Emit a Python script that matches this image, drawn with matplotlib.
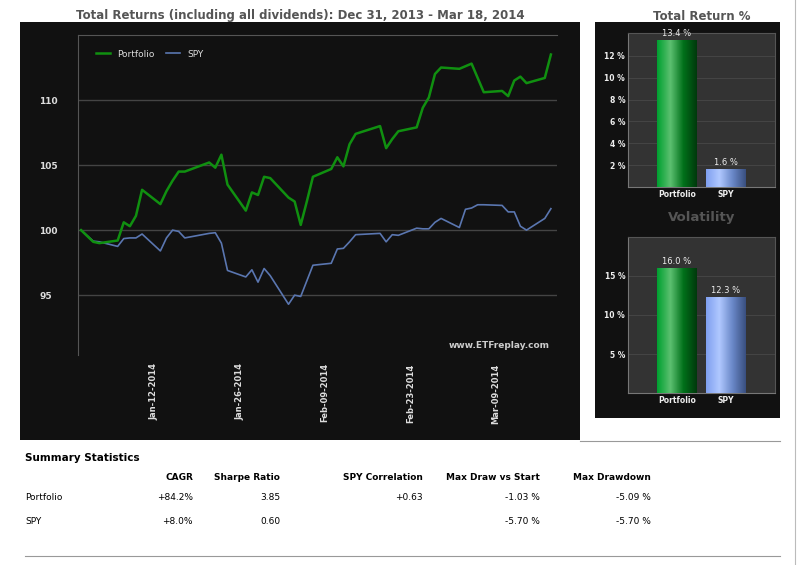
import numpy as np
import pandas as pd
import matplotlib
matplotlib.use("Agg")
import matplotlib.pyplot as plt
import matplotlib.dates as mdates
from matplotlib.colors import LinearSegmentedColormap

# ── Data ──────────────────────────────────────────────────────────────────────
dates = pd.to_datetime([
    "2013-12-31", "2014-01-02", "2014-01-03", "2014-01-06", "2014-01-07", "2014-01-08",
    "2014-01-09", "2014-01-10", "2014-01-13", "2014-01-14", "2014-01-15", "2014-01-16",
    "2014-01-17", "2014-01-21", "2014-01-22", "2014-01-23", "2014-01-24", "2014-01-27",
    "2014-01-28", "2014-01-29", "2014-01-30", "2014-01-31", "2014-02-03", "2014-02-04",
    "2014-02-05", "2014-02-06", "2014-02-07", "2014-02-10", "2014-02-11", "2014-02-12",
    "2014-02-13", "2014-02-14", "2014-02-18", "2014-02-19", "2014-02-20", "2014-02-21",
    "2014-02-24", "2014-02-25", "2014-02-26", "2014-02-27", "2014-02-28", "2014-03-03",
    "2014-03-04", "2014-03-05", "2014-03-06", "2014-03-07", "2014-03-10", "2014-03-11",
    "2014-03-12", "2014-03-13", "2014-03-14", "2014-03-17", "2014-03-18",
])
portfolio = [
    100.0, 99.1, 99.0, 99.2, 100.6, 100.3, 101.1, 103.1, 102.0, 103.0, 103.8, 104.5,
    104.5, 105.2, 104.8, 105.8, 103.5, 101.5, 102.9, 102.7, 104.1, 104.0, 102.5, 102.2,
    100.4, 102.2, 104.1, 104.7, 105.6, 104.9, 106.6, 107.4, 108.0, 106.3, 107.0, 107.6,
    107.9, 109.4, 110.2, 112.0, 112.5, 112.4, 112.6, 112.8, 111.7, 110.6, 110.7, 110.3,
    111.5, 111.8, 111.3, 111.7, 113.5,
]
spy = [
    100.0, 99.15, 99.1, 98.75, 99.35, 99.4, 99.4, 99.7, 98.4, 99.4, 100.0, 99.9,
    99.4, 99.75, 99.8, 99.0, 96.9, 96.4, 96.95, 96.0, 97.05, 96.5, 94.3, 95.0,
    94.9, 96.1, 97.3, 97.45, 98.55, 98.6, 99.1, 99.65, 99.75, 99.1, 99.65, 99.6,
    100.15, 100.1, 100.1, 100.6, 100.9, 100.2, 101.6, 101.7, 101.95, 101.95, 101.9, 101.4,
    101.4, 100.3, 100.0, 100.9, 101.65,
]
tick_dates = pd.to_datetime(["2014-01-12", "2014-01-26", "2014-02-09", "2014-02-23", "2014-03-09"])

bar_names = ["Portfolio", "SPY"]
total_return = [13.4, 1.6]
volatility = [16.0, 12.3]

stat_cols = ["CAGR", "Sharpe Ratio", "SPY Correlation", "Max Draw vs Start", "Max Drawdown"]
stat_rows = {
    "Portfolio": ["+84.2%", "3.85", "+0.63", "-1.03 %", "-5.09 %"],
    "SPY": ["+8.0%", "0.60", "", "-5.70 %", "-5.70 %"],
}

W, H = 805, 565
GREEN, BLUE = "#109010", "#5a76b0"


def box(x0, y0, x1, y1):
    """pixel box (top-left origin) -> figure rect"""
    return [x0 / W, 1 - y1 / H, (x1 - x0) / W, (y1 - y0) / H]


fig = plt.figure(figsize=(W / 100, H / 100), dpi=100, facecolor="white")

# dark panels
for rect in (box(20, 22, 580, 440), box(595, 22, 780, 418)):
    bg = fig.add_axes(rect)
    bg.set_facecolor("#111111")
    bg.set_xticks([]); bg.set_yticks([])
    for s in bg.spines.values():
        s.set_visible(False)

# ── Line chart ────────────────────────────────────────────────────────────────
ax = fig.add_axes(box(78, 35, 557, 355))
ax.set_facecolor("#111111")
ax.plot(dates, spy, color=BLUE, lw=1.2, label="SPY", zorder=3)
ax.plot(dates, portfolio, color=GREEN, lw=1.8, label="Portfolio", zorder=4)
ax.set_ylim(90.4, 115)
ax.set_xlim(pd.Timestamp("2013-12-30 12:00"), pd.Timestamp("2014-03-19"))
ax.set_yticks([95, 100, 105, 110])
ax.yaxis.grid(True, color="#444444", lw=1)
ax.set_xticks(tick_dates)
ax.xaxis.set_major_formatter(mdates.DateFormatter("%b-%d-%Y"))
ax.tick_params(axis="x", rotation=90, colors="#dddddd", labelsize=6, length=0, pad=6)
ax.tick_params(axis="y", colors="#dddddd", labelsize=6.5, length=0, pad=28)
for lab in ax.get_xticklabels() + ax.get_yticklabels():
    lab.set_fontweight("bold")
for lab in ax.get_yticklabels():
    lab.set_horizontalalignment("left")
for s in ["right", "bottom"]:
    ax.spines[s].set_visible(False)
ax.spines["left"].set_color("#555555")
ax.spines["top"].set_color("#555555")
ax.legend(handles=ax.get_lines()[::-1], loc="upper left", ncol=2, frameon=False,
          fontsize=6.5, labelcolor="#dddddd", handlelength=1.6, columnspacing=1.2,
          bbox_to_anchor=(0.02, 0.98))
ax.text(0.985, 0.015, "www.ETFreplay.com", transform=ax.transAxes, ha="right", va="bottom",
        color="#cccccc", fontsize=6.5, fontweight="bold")

fig.text(300 / W, 1 - 16 / H, "Total Returns (including all dividends): Dec 31, 2013 - Mar 18, 2014",
         ha="center", va="center", fontsize=8.5, fontweight="bold", color="#555555")
fig.text(702 / W, 1 - 16 / H, "Total Return %", ha="center", va="center",
         fontsize=8.5, fontweight="bold", color="#555555")
fig.text(702 / W, 1 - 218 / H, "Volatility", ha="center", va="center",
         fontsize=9.5, fontweight="bold", color="#555555")

# ── Bar charts ────────────────────────────────────────────────────────────────
gcmap = LinearSegmentedColormap.from_list("g", ["#00a030", "#5cc070", "#00701a", "#003a0c"])
bcmap = LinearSegmentedColormap.from_list("b", ["#80a0f0", "#b0c8ff", "#6a88c8", "#3a5080"])
grad = np.linspace(0, 1, 64).reshape(1, -1)


def bar_panel(rect, values, ymax, ticks):
    bx = fig.add_axes(rect)
    bx.set_facecolor("#333333")
    width = 0.81
    for i, (v, cm) in enumerate(zip(values, (gcmap, bcmap))):
        bx.imshow(grad, cmap=cm, aspect="auto", zorder=3,
                  extent=(i - width / 2, i + width / 2, 0, v))
        bx.text(i, v + ymax * 0.015, f"{v:.1f} %", ha="center", va="bottom",
                color="#eeeeee", fontsize=6, zorder=4)
    bx.set_xlim(-1, 2)
    bx.set_ylim(0, ymax)
    bx.set_xticks(range(len(bar_names)))
    bx.set_xticklabels(bar_names)
    bx.set_yticks(ticks)
    bx.set_yticklabels([f"{t} %" for t in ticks])
    bx.yaxis.grid(True, color="#444444", lw=0.8)
    bx.set_axisbelow(True)
    bx.tick_params(colors="#eeeeee", labelsize=5.5, length=0, pad=2)
    for lab in bx.get_xticklabels() + bx.get_yticklabels():
        lab.set_fontweight("bold")
    for s in bx.spines.values():
        s.set_color("#555555")
    bx.spines["left"].set_color("#777777")
    bx.spines["bottom"].set_color("#777777")
    return bx


bar_panel(box(628, 33, 775, 187), total_return, 14.1, [2, 4, 6, 8, 10, 12])
bar_panel(box(628, 237, 775, 393), volatility, 20, [5, 10, 15])

# ── Summary table ─────────────────────────────────────────────────────────────
fig.add_artist(plt.Line2D([580 / W, 780 / W], [1 - 441 / H] * 2, color="#999999", lw=0.8))
fig.add_artist(plt.Line2D([25 / W, 780 / W], [1 - 556 / H] * 2, color="#999999", lw=0.8))
fig.add_artist(plt.Line2D([795 / W] * 2, [0, 1], color="#bbbbbb", lw=0.8))

fig.text(25 / W, 1 - 458 / H, "Summary Statistics", fontsize=7.5, fontweight="bold", va="center")
col_x = [193, 280, 423, 540, 651]
for cx, name in zip(col_x, stat_cols):
    fig.text(cx / W, 1 - 478 / H, name, ha="right", va="center", fontsize=6.5, fontweight="bold")
for ry, (rname, vals) in zip([497, 521], stat_rows.items()):
    fig.text(25 / W, 1 - ry / H, rname, va="center", fontsize=6.5)
    for cx, v in zip(col_x, vals):
        fig.text(cx / W, 1 - ry / H, v, ha="right", va="center", fontsize=6.5)

fig.savefig("out.png", dpi=100, facecolor="white")
